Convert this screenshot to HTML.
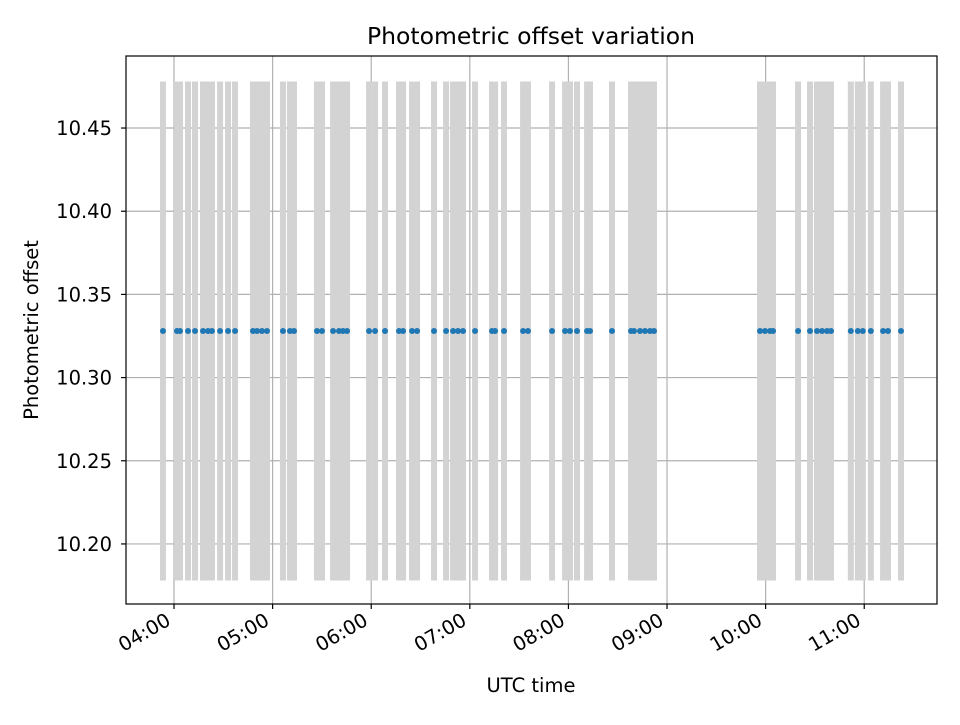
<!DOCTYPE html>
<html><head><meta charset="utf-8"><style>
html,body{margin:0;padding:0;background:#fff}
svg text{font-family:"DejaVu Sans","Liberation Sans",sans-serif;fill:#000}
</style></head><body>
<svg id="chart" width="960" height="720" viewBox="0 0 960 720" xmlns="http://www.w3.org/2000/svg">
<rect width="960" height="720" fill="#fff"/>
<text x="531" y="44" font-size="23.5" text-anchor="middle">Photometric offset variation</text>
<text x="531" y="692" font-size="19.5" text-anchor="middle">UTC time</text>
<text transform="translate(38,330) rotate(-90)" font-size="19.5" text-anchor="middle">Photometric offset</text>
<g id="grid"></g><g id="bars"></g><g id="pts"></g><g id="axes"></g>
</svg>
<script>
// observation times (decimal UTC hours)
const times=[3.888,4.030,4.061,4.142,4.213,4.294,4.345,4.385,4.467,4.548,4.619,4.801,4.842,4.892,4.943,5.105,5.176,5.217,5.450,5.501,5.613,5.673,5.714,5.755,5.978,6.039,6.140,6.282,6.323,6.414,6.465,6.637,6.759,6.830,6.880,6.931,7.053,7.225,7.256,7.347,7.540,7.590,7.834,7.966,8.016,8.087,8.189,8.219,8.442,8.635,8.665,8.726,8.777,8.828,8.868,9.943,9.994,10.045,10.075,10.329,10.450,10.521,10.572,10.623,10.663,10.864,10.935,10.986,11.067,11.191,11.241,11.373];
const offsetValue=10.328;
const offsetError=0.15;
const xTickHours=[4,5,6,7,8,9,10,11];
const xTickLabels=["04:00","05:00","06:00","07:00","08:00","09:00","10:00","11:00"];
const yTicks=[10.20,10.25,10.30,10.35,10.40,10.45];
const yTickLabels=["10.20","10.25","10.30","10.35","10.40","10.45"];

const L=126,R=937,T=56,B=604;
const xMin=3.513,xMax=11.738,yMin=10.1639,yMax=10.4933;
const X=h=>L+(h-xMin)/(xMax-xMin)*(R-L);
const Y=v=>B-(v-yMin)/(yMax-yMin)*(B-T);
const NS="http://www.w3.org/2000/svg";
function mk(tag,parent,attrs){const e=document.createElementNS(NS,tag);for(const k in attrs)e.setAttribute(k,attrs[k]);document.getElementById(parent).appendChild(e);return e;}
xTickHours.forEach((h,i)=>{
  const g=mk('line','grid',{x1:X(h),x2:X(h),y1:T,y2:B,stroke:'#b0b0b0','stroke-width':1.2});
  
  
  const t=mk('line','axes',{x1:X(h),x2:X(h),y1:B,y2:B+5,stroke:'#000','stroke-width':1.2});
  
  
  const l=mk('text','axes',{x:X(h)-2,y:B+20,'font-size':19.5,'text-anchor':'end',transform:`rotate(-30 ${X(h)-2} ${B+20})`});
  l.textContent=xTickLabels[i];
  
  
});
yTicks.forEach((v,i)=>{
  const g=mk('line','grid',{x1:L,x2:R,y1:Y(v),y2:Y(v),stroke:'#b0b0b0','stroke-width':1.2});
  
  
  const t=mk('line','axes',{x1:L-5,x2:L,y1:Y(v),y2:Y(v),stroke:'#000','stroke-width':1.2});
  
  
  const l=mk('text','axes',{x:L-14,y:Y(v)+7,'font-size':19.5,'text-anchor':'end'});
  l.textContent=yTickLabels[i];
  
  
});
times.forEach(h=>{
  const b=mk('line','bars',{x1:X(h),x2:X(h),y1:Y(offsetValue+offsetError),y2:Y(offsetValue-offsetError),stroke:'#d3d3d3','stroke-width':6});
  
  
  const p=mk('circle','pts',{cx:X(h),cy:Y(offsetValue),r:3,fill:'#1f77b4'});
  
  
});
const f=mk('rect','axes',{x:L,y:T,width:R-L,height:B-T,fill:'none',stroke:'#000','stroke-width':1.2});


</script>
</body></html>
